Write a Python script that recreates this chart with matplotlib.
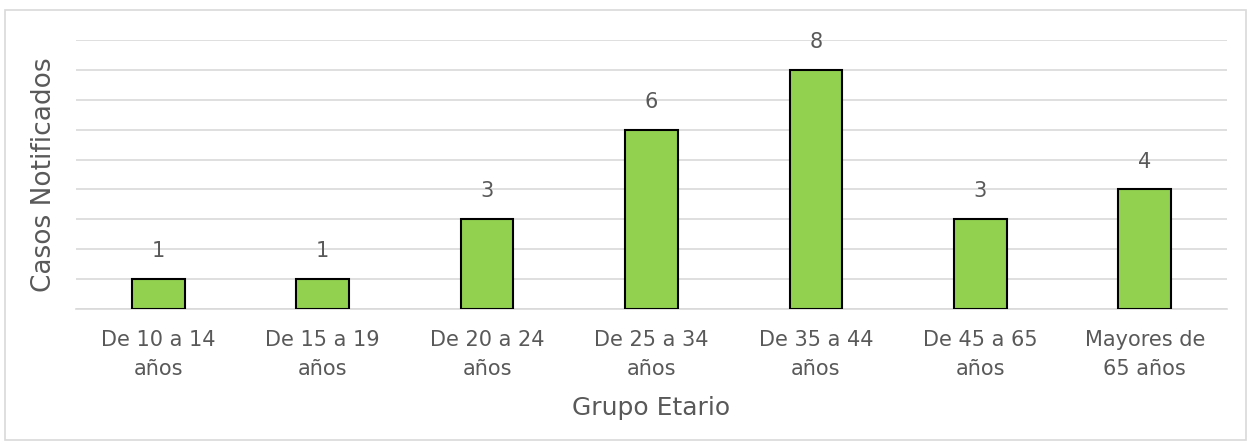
import matplotlib.pyplot as plt
from matplotlib.patches import Rectangle

grupos = ['De 10 a 14\naños', 'De 15 a 19\naños', 'De 20 a 24\naños', 'De 25 a 34\naños',
          'De 35 a 44\naños', 'De 45 a 65\naños', 'Mayores de\n65 años']
casos = [1, 1, 3, 6, 8, 3, 4]

plt.rcParams['font.family'] = ['DejaVu Sans']
texto = '#595959'

fig = plt.figure(figsize=(12.52, 4.48), dpi=100)
ax = fig.add_axes([0.0607, 0.3103, 0.9193, 0.6004])

# marco exterior del grafico
fig.patches.append(Rectangle((5 / 1252, 8 / 448), 1241 / 1252, 430 / 448, transform=fig.transFigure,
                             fill=False, edgecolor='#d9d9d9', linewidth=1.2))

x = range(len(grupos))
barras = ax.bar(x, casos, width=0.32, color='#92d050', edgecolor='black', linewidth=1.5, zorder=3)
for b, v in zip(barras, casos):
    ax.text(b.get_x() + b.get_width() / 2, v + 0.6, str(v), ha='center', va='bottom',
            fontsize=15, color=texto)

ax.set_xlim(-0.5, len(grupos) - 0.5)
ax.set_ylim(0, 9)
ax.set_yticks(range(0, 10))
ax.set_yticklabels([])
ax.tick_params(axis='y', length=0)
ax.tick_params(axis='x', length=0, pad=15)
ax.set_xticks(list(x))
ax.set_xticklabels(grupos, fontsize=15, color=texto, linespacing=1.6)
ax.grid(axis='y', color='#d9d9d9', linewidth=1.2, zorder=0)
for s in ['top', 'right', 'left']:
    ax.spines[s].set_visible(False)
ax.spines['bottom'].set_color('#d9d9d9')
ax.spines['bottom'].set_linewidth(1.2)

ax.set_ylabel('Casos Notificados', fontsize=19, color=texto, labelpad=10)
ax.set_xlabel('Grupo Etario', fontsize=18, color=texto, labelpad=12)

plt.savefig('out.png')
